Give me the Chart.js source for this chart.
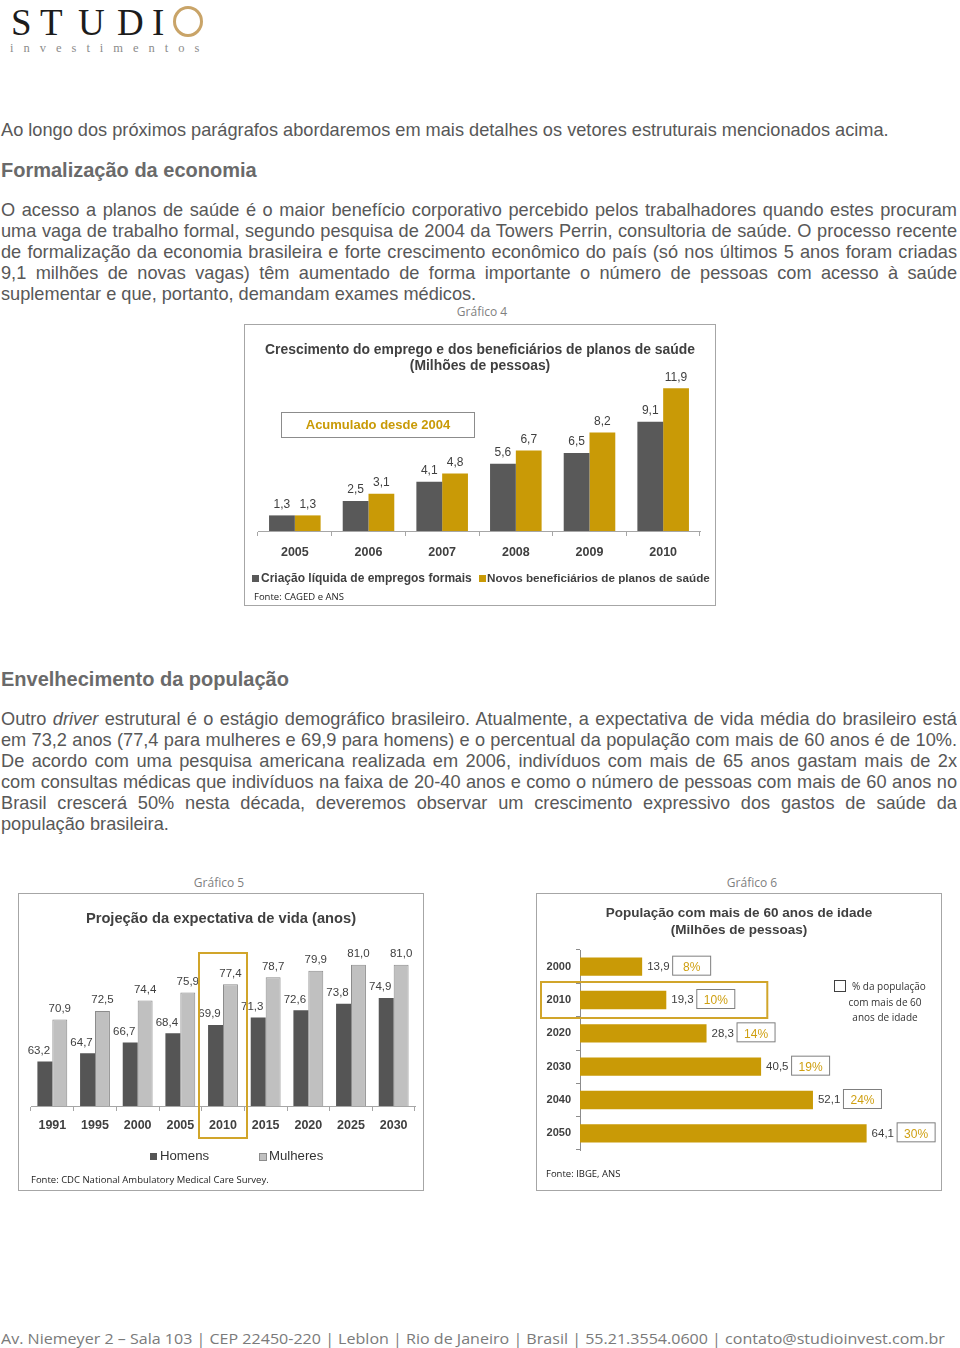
<!DOCTYPE html>
<html lang="pt-BR">
<head>
<meta charset="utf-8">
<script src="https://cdn.jsdelivr.net/npm/chart.js@4.4.0/dist/chart.umd.min.js"></script>
<style>
  body { margin: 0; width: 960px; height: 1348px; position: relative; overflow: hidden; background: #fff;
         font-family: "Liberation Sans", Arial, sans-serif; color: #585858; }
  .abs { position: absolute; white-space: nowrap; }
  .para { position: absolute; left: 1px; width: 956px; font-size: 18.2px; line-height: 21px; }
  .para div { height: 21px; white-space: nowrap; overflow: hidden; }
  h2 { position: absolute; left: 1px; margin: 0; font-size: 20px; line-height: 24px; color: #6a6a6a; font-weight: bold; }
  .cap { font-family: "Open Sans", sans-serif; font-size: 12px; color: #7f7f7f; line-height: 16px; }
  .box { position: absolute; border: 1px solid #a6a6a6; background: #fff; }
  .box canvas { position: absolute; left: 0; top: 0; }
  .ttl { position: absolute; left: 0; right: 0; text-align: center; font-weight: bold; font-size: 13.5px; line-height: 16px; color: #404040; }
  .src { font-family: "Open Sans", sans-serif; font-size: 9.5px; color: #222; line-height: 12px; }
  .lg { font-size: 12px; line-height: 14px; color: #333; }
  .sq { position: absolute; width: 7px; height: 7px; }
  .logo { position: absolute; font-family: "Liberation Serif", serif; font-size: 37px; line-height: 37px; color: #1c1c1c; }
</style>
</head>
<body>

<!-- cabeçalho -->
<div class="logo" style="left:11px;top:4px">S</div>
<div class="logo" style="left:40px;top:4px">T</div>
<div class="logo" style="left:78px;top:4px">U</div>
<div class="logo" style="left:117px;top:4px">D</div>
<div class="logo" style="left:152px;top:4px">I</div>
<div class="abs" style="left:173px;top:6px;width:24px;height:25px;border:3px solid #c9a468;border-radius:50%"></div>
<div class="abs" style="left:10px;top:41px;font-family:'Liberation Serif',serif;font-size:12.5px;letter-spacing:10px;color:#8c8c8c">investimentos</div>

<div class="abs" style="left:1px;top:120px;font-size:18.2px;line-height:21px">Ao longo dos próximos parágrafos abordaremos em mais detalhes os vetores estruturais mencionados acima.</div>

<h2 style="top:158px">Formalização da economia</h2>

<div class="para" style="top:200px">
  <div class="j">O acesso a planos de saúde é o maior benefício corporativo percebido pelos trabalhadores quando estes procuram</div>
  <div class="j">uma vaga de trabalho formal, segundo pesquisa de 2004 da Towers Perrin, consultoria de saúde. O processo recente</div>
  <div class="j">de formalização da economia brasileira e forte crescimento econômico do país (só nos últimos 5 anos foram criadas</div>
  <div class="j">9,1 milhões de novas vagas) têm aumentado de forma importante o número de pessoas com acesso à saúde</div>
  <div>suplementar e que, portanto, demandam exames médicos.</div>
</div>

<div class="abs cap" style="left:482px;top:304px;transform:translateX(-50%)">Gráfico 4</div>

<!-- Gráfico 4 -->
<div class="box" style="left:244px;top:324px;width:470px;height:280px">
  <canvas id="c4" width="470" height="280"></canvas>
  <div class="ttl" style="top:16px;font-size:13.9px">Crescimento do emprego e dos beneficiários de planos de saúde<br>(Milhões de pessoas)</div>
  <div class="abs" style="left:36px;top:87px;width:192px;height:24px;border:1px solid #8c8c8c;text-align:center;line-height:24px;font-weight:bold;font-size:13px;color:#c99a06">Acumulado desde 2004</div>
  <div class="sq" style="left:7px;top:250px;background:#595959"></div>
  <div class="abs lg" style="left:16px;top:246px;font-weight:bold;color:#404040">Criação líquida de empregos formais</div>
  <div class="sq" style="left:234px;top:250px;background:#c99a06"></div>
  <div class="abs lg" style="left:242px;top:246px;font-weight:bold;color:#404040;font-size:11.7px">Novos beneficiários de planos de saúde</div>
  <div class="abs src" style="left:9px;top:266px">Fonte: CAGED e ANS</div>
</div>

<h2 style="top:667px">Envelhecimento da população</h2>

<div class="para" style="top:709px">
  <div class="j">Outro <i>driver</i> estrutural é o estágio demográfico brasileiro. Atualmente, a expectativa de vida média do brasileiro está</div>
  <div class="j">em 73,2 anos (77,4 para mulheres e 69,9 para homens) e o percentual da população com mais de 60 anos é de 10%.</div>
  <div class="j">De acordo com uma pesquisa americana realizada em 2006, indivíduos com mais de 65 anos gastam mais de 2x</div>
  <div class="j">com consultas médicas que indivíduos na faixa de 20-40 anos e como o número de pessoas com mais de 60 anos no</div>
  <div class="j">Brasil crescerá 50% nesta década, deveremos observar um crescimento expressivo dos gastos de saúde da</div>
  <div>população brasileira.</div>
</div>

<div class="abs cap" style="left:219px;top:875px;transform:translateX(-50%)">Gráfico 5</div>
<div class="abs cap" style="left:752px;top:875px;transform:translateX(-50%)">Gráfico 6</div>

<!-- Gráfico 5 -->
<div class="box" style="left:18px;top:893px;width:404px;height:296px">
  <canvas id="c5" width="404" height="296"></canvas>
  <div class="ttl" style="top:16px;font-size:14.7px">Projeção da expectativa de vida (anos)</div>
  <div class="sq" style="left:131px;top:259px;background:#555"></div>
  <div class="abs lg" style="left:141px;top:255px;font-size:13.2px">Homens</div>
  <div class="sq" style="left:240px;top:259px;width:6px;height:6px;background:#c0c0c0;border:1px solid #8c8c8c"></div>
  <div class="abs lg" style="left:250px;top:255px;font-size:13.2px">Mulheres</div>
  <div class="abs src" style="left:12px;top:280px">Fonte: CDC National Ambulatory Medical Care Survey.</div>
</div>

<!-- Gráfico 6 -->
<div class="box" style="left:536px;top:893px;width:404px;height:296px">
  <canvas id="c6" width="404" height="296"></canvas>
  <div class="ttl" style="top:10px;line-height:17px">População com mais de 60 anos de idade<br>(Milhões de pessoas)</div>
  <div class="abs" style="left:297px;top:86px;width:10px;height:10px;border:1.5px solid #404040"></div>
  <div class="abs src" style="left:296px;top:85px;width:104px;text-align:center;font-size:10px;line-height:15.5px;color:#333">&nbsp;&nbsp;&nbsp;% da população<br>com mais de 60<br>anos de idade</div>
  <div class="abs src" style="left:9px;top:274px">Fonte: IBGE, ANS</div>
</div>

<div class="abs" id="rodape" style="left:1px;top:1328px;font-family:'Open Sans',sans-serif;font-size:15px;line-height:20px;color:#7a7a7a;transform-origin:0 0">Av. Niemeyer 2 – Sala 103 | CEP 22450-220 | Leblon | Rio de Janeiro | Brasil | 55.21.3554.0600 | contato@studioinvest.com.br</div>

<script>
// ---- dados ----
const anos4 = ["2005", "2006", "2007", "2008", "2009", "2010"];
const empregosFormais = [1.3, 2.5, 4.1, 5.6, 6.5, 9.1];
const novosBeneficiarios = [1.3, 3.1, 4.8, 6.7, 8.2, 11.9];

const anos5 = ["1991", "1995", "2000", "2005", "2010", "2015", "2020", "2025", "2030"];
const homens = [63.2, 64.7, 66.7, 68.4, 69.9, 71.3, 72.6, 73.8, 74.9];
const mulheres = [70.9, 72.5, 74.4, 75.9, 77.4, 78.7, 79.9, 81.0, 81.0];
const destaque5 = "2010";

const anos6 = ["2000", "2010", "2020", "2030", "2040", "2050"];
const idosos = [13.9, 19.3, 28.3, 40.5, 52.1, 64.1];
const idososPct = [8, 10, 14, 19, 24, 30];
const destaque6 = "2010";

// ---- cores ----
const CINZA = "#595959";
const OURO = "#c99a06";
const TXT = "#404040";

// justifica as linhas do texto corrido (quebras iguais ao original)
document.querySelectorAll(".para .j").forEach(el => {
  el.innerHTML = "<span>" + el.innerHTML.trim() + "</span>";
  const w = el.firstChild.getBoundingClientRect().width;
  const espacos = el.textContent.trim().split(/\s+/).length - 1;
  el.style.wordSpacing = ((956 - w) / espacos) + "px";
});

Chart.defaults.font.family = "'Liberation Sans', Arial, sans-serif";
Chart.defaults.color = TXT;

const fmt = v => v.toFixed(1).replace(".", ",");

// rótulos de valor acima das barras
const rotulos = {
  id: "rotulos",
  afterDatasetsDraw(chart, args, opts) {
    const ctx = chart.ctx;
    ctx.save();
    ctx.font = opts.font;
    ctx.fillStyle = TXT;
    ctx.textAlign = "center";
    ctx.textBaseline = "bottom";
    chart.data.datasets.forEach((ds, di) => {
      const dx = (opts.dx && opts.dx[di]) || 0;
      chart.getDatasetMeta(di).data.forEach((bar, i) => {
        ctx.fillText(fmt(ds.data[i]), bar.x + dx, bar.y - opts.gap);
      });
    });
    ctx.restore();
  }
};

// retângulo dourado de destaque
const destaqueVertical = {
  id: "destaqueVertical",
  afterDraw(chart) {
    const i = chart.data.labels.indexOf(destaque5);
    const x = chart.scales.x.getPixelForValue(i);
    const a = chart.chartArea;
    const ctx = chart.ctx;
    ctx.save();
    ctx.strokeStyle = "#d1a52a";
    ctx.lineWidth = 2;
    ctx.strokeRect(x - 24, a.top + 10, 48, a.bottom - a.top + 22);
    ctx.restore();
  }
};

// Gráfico 4
new Chart(document.getElementById("c4"), {
  type: "bar",
  data: {
    labels: anos4,
    datasets: [
      { label: "Criação líquida de empregos formais", data: empregosFormais, backgroundColor: CINZA },
      { label: "Novos beneficiários de planos de saúde", data: novosBeneficiarios, backgroundColor: OURO }
    ]
  },
  options: {
    responsive: false,
    animation: false,
    devicePixelRatio: 1,
    datasets: { bar: { categoryPercentage: 0.7, barPercentage: 1 } },
    layout: { padding: { left: 13, right: 15, top: 38, bottom: 44 } },
    scales: {
      x: {
        grid: { drawOnChartArea: false, tickLength: 5, color: "#a6a6a6", offset: true },
        border: { color: "#a6a6a6" },
        ticks: { padding: 9, color: TXT, font: { size: 12.5, weight: "bold" } },
        afterFit: s => { s.height = 30; }
      },
      y: { display: false, min: 0, max: 14 }
    },
    plugins: {
      legend: { display: false },
      tooltip: { enabled: false },
      rotulos: { font: "12px 'Liberation Sans', Arial, sans-serif", gap: 5 }
    }
  },
  plugins: [rotulos]
});

// Gráfico 5
new Chart(document.getElementById("c5"), {
  type: "bar",
  data: {
    labels: anos5,
    datasets: [
      { label: "Homens", data: homens, backgroundColor: "#555555" },
      { label: "Mulheres", data: mulheres, backgroundColor: "#c0c0c0", borderColor: "#8c8c8c", borderWidth: 1 }
    ]
  },
  options: {
    responsive: false,
    animation: false,
    devicePixelRatio: 1,
    datasets: { bar: { categoryPercentage: 0.7, barPercentage: 1 } },
    layout: { padding: { left: 12, right: 8, top: 49, bottom: 54 } },
    scales: {
      x: {
        grid: { drawOnChartArea: false, tickLength: 5, color: "#a6a6a6", offset: true },
        border: { color: "#a6a6a6" },
        ticks: { padding: 7, color: TXT, font: { size: 12.5, weight: "bold" } },
        afterFit: s => { s.height = 30; }
      },
      y: { display: false, min: 55, max: 85 }
    },
    plugins: {
      legend: { display: false },
      tooltip: { enabled: false },
      rotulos: { font: "11.5px 'Liberation Sans', Arial, sans-serif", gap: 5, dx: [-6, 0] }
    }
  },
  plugins: [rotulos, destaqueVertical]
});

// Gráfico 6: valores + caixas de percentual + destaque
const rotulosHorizontais = {
  id: "rotulosHorizontais",
  afterDatasetsDraw(chart) {
    const ctx = chart.ctx;
    const meta = chart.getDatasetMeta(0);
    ctx.save();
    meta.data.forEach((bar, i) => {
      ctx.font = "11.5px 'Liberation Sans', Arial, sans-serif";
      ctx.fillStyle = TXT;
      ctx.textAlign = "left";
      ctx.textBaseline = "middle";
      ctx.fillText(fmt(idosos[i]), bar.x + 5, bar.y);
      const bx = bar.x + 30;
      ctx.strokeStyle = "#7f7f7f";
      ctx.lineWidth = 1;
      ctx.strokeRect(bx + 0.5, bar.y - 10.5, 38, 19);
      ctx.font = "12px 'Liberation Sans', Arial, sans-serif";
      ctx.fillStyle = "#cf9f10";
      ctx.textAlign = "center";
      ctx.fillText(idososPct[i] + "%", bx + 19.5, bar.y + 1);
      if (chart.data.labels[i] === destaque6) {
        ctx.strokeStyle = "#d1a52a";
        ctx.lineWidth = 2;
        ctx.strokeRect(4, bar.y - 18, bx + 71 - 4, 36);
      }
    });
    ctx.restore();
  }
};

new Chart(document.getElementById("c6"), {
  type: "bar",
  data: {
    labels: anos6,
    datasets: [{ label: "População com mais de 60 anos", data: idosos, backgroundColor: OURO }]
  },
  options: {
    indexAxis: "y",
    responsive: false,
    animation: false,
    devicePixelRatio: 1,
    datasets: { bar: { categoryPercentage: 0.55, barPercentage: 1 } },
    layout: { padding: { left: 0, right: 48, top: 56, bottom: 40 } },
    scales: {
      y: {
        grid: { drawOnChartArea: false, tickLength: 4, color: "#8c8c8c", offset: true },
        border: { color: "#8c8c8c" },
        ticks: { padding: 5, color: TXT, font: { size: 11, weight: "bold" } },
        afterFit: s => { s.width = 43; }
      },
      x: { display: false, min: 0, max: 70 }
    },
    plugins: { legend: { display: false }, tooltip: { enabled: false } }
  },
  plugins: [rotulosHorizontais]
});

// rodapé ajustado à largura da página
const rod = document.getElementById("rodape");
rod.style.transform = "scaleX(" + (944 / rod.offsetWidth) + ")";
</script>
</body>
</html>
